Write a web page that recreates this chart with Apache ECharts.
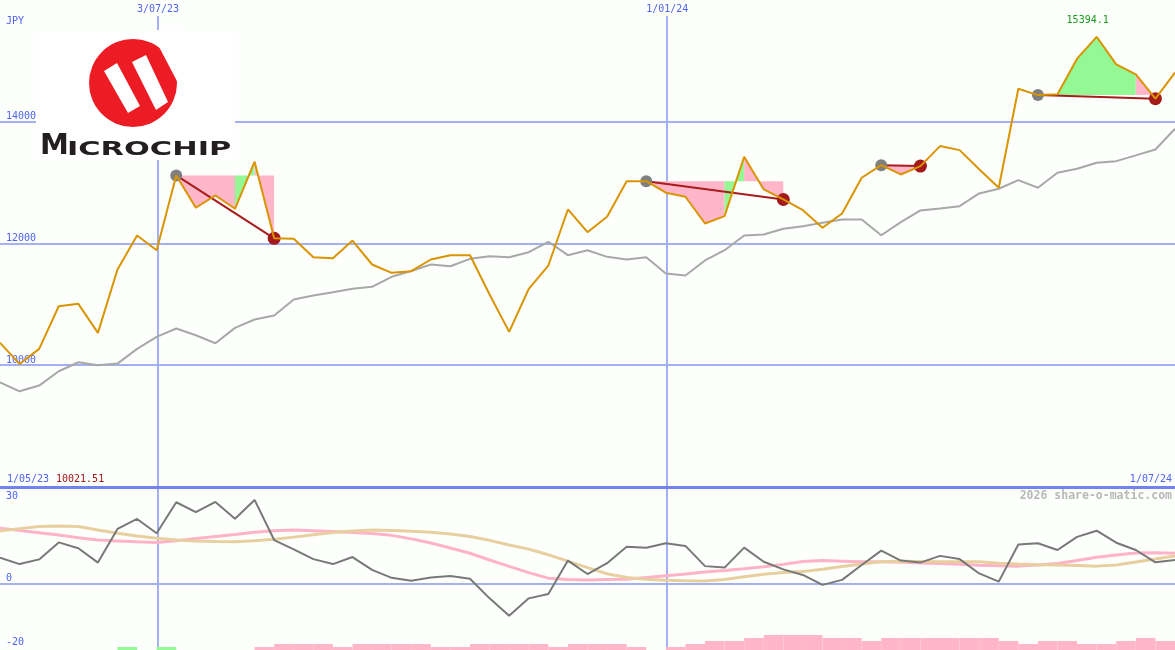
<!DOCTYPE html>
<html><head><meta charset="utf-8">
<script src="https://cdn.jsdelivr.net/npm/echarts@6/dist/echarts.min.js"></script>
<style>html,body{margin:0;padding:0;background:#fcfffc}#c{width:1175px;height:650px}</style>
</head><body><div id="c"></div>
<script>
// ---- data ----
const startDate = Date.UTC(2023, 4, 7, 12);
const WEEK = 7 * 86400000;
const weekDates = Array.from({length: 61}, (_, i) => startDate + i * WEEK);
const xTickDates = [Date.UTC(2023, 6, 3), Date.UTC(2024, 0, 1)];
const rangeLabels = ['1/05/23', '1/07/24'];
const priceTicks = [10000, 12000, 14000];
const oscLabelTicks = [30, 0, -20];
const oscGridTicks = [0];
const currency = 'JPY';
const credit = '2026 share-o-matic.com';

const price = [10368, 10021.51, 10269, 10969, 11009, 10532, 11573, 12132, 11890, 13118,
  12587, 12789, 12570, 13343, 12085, 12077, 11775, 11758, 12049, 11655,
  11518, 11545, 11737, 11808, 11808, 11162, 10548, 11255, 11638, 12559,
  12186, 12439, 13024, 13024, 12834, 12768, 12329, 12449, 13425, 12888,
  12723, 12547, 12258, 12493, 13080, 13287, 13134, 13271, 13600, 13534,
  13220, 12916, 14543, 14438, 14450, 15036, 15394.1, 14943, 14778, 14379,
  14806];
const benchmark = [9720, 9572, 9666, 9901, 10049, 9999, 10027, 10269, 10466, 10603,
  10492, 10361, 10614, 10751, 10816, 11079, 11145, 11199, 11255, 11288,
  11453, 11548, 11655, 11627, 11748, 11791, 11775, 11857, 12028, 11808,
  11890, 11781, 11737, 11775, 11507, 11474, 11721, 11890, 12132, 12148,
  12242, 12284, 12340, 12395, 12395, 12136, 12350, 12543, 12575, 12613,
  12822, 12899, 13041, 12916, 13162, 13228, 13327, 13353, 13447, 13545,
  13886];
const momentum = [9.0, 6.8, 8.4, 14.2, 12.2, 7.3, 18.8, 22.2, 17.3, 27.9,
  24.5, 28.0, 22.3, 28.7, 15.0, 11.8, 8.5, 6.8, 9.2, 4.8,
  2.1, 1.1, 2.2, 2.7, 1.8, -4.9, -10.8, -4.9, -3.4, 8.0,
  3.4, 7.1, 12.7, 12.4, 13.9, 13.0, 6.1, 5.6, 12.4, 7.6,
  5.0, 3.1, -0.3, 1.4, 6.5, 11.4, 8.0, 7.3, 9.6, 8.5,
  3.6, 0.8, 13.5, 13.9, 11.6, 16.1, 18.2, 14.1, 11.6, 7.4,
  8.2];
const momentumAvgPink = [19.0, 18.3, 17.5, 16.7, 15.8, 15.0, 14.7, 14.4, 14.2, 14.8,
  15.5, 16.2, 16.9, 17.7, 18.2, 18.4, 18.2, 17.9, 17.6, 17.2,
  16.6, 15.4, 14.0, 12.3, 10.5, 8.2, 6.0, 3.9, 2.0, 1.5,
  1.4, 1.5, 1.6, 2.2, 2.8, 3.4, 4.1, 4.6, 5.2, 5.9,
  6.7, 7.7, 8.0, 7.8, 7.6, 7.6, 7.4, 7.2, 7.0, 6.7,
  6.4, 6.2, 6.1, 6.5, 7.0, 8.0, 9.1, 9.9, 10.6, 10.7,
  10.5];
const momentumAvgTan = [18.1, 18.9, 19.6, 19.8, 19.6, 18.4, 17.3, 16.4, 15.6, 15.0,
  14.7, 14.5, 14.4, 14.8, 15.3, 16.0, 16.8, 17.6, 18.1, 18.4,
  18.3, 18.0, 17.7, 17.1, 16.2, 14.9, 13.3, 11.9, 10.0, 7.8,
  5.6, 3.5, 2.2, 1.6, 1.3, 1.1, 1.0, 1.5, 2.5, 3.3,
  3.9, 4.3, 5.0, 6.0, 6.8, 7.6, 7.8, 7.7, 7.6, 7.6,
  7.6, 7.1, 6.8, 6.6, 6.5, 6.3, 6.1, 6.5, 7.5, 8.5,
  9.6];
const barValues = [0, 0, 0, 0, 0, 0, 1, 0, 1, 0,
  0, 0, 0, -1, -2, -2, -2, -1, -2, -2,
  -2, -2, -1, -1, -2, -2, -2, -2, -1, -2,
  -2, -2, -1, 0, -1, -2, -3, -3, -4, -5,
  -5, -5, -4, -4, -3, -4, -4, -4, -4, -4,
  -4, -3, -2, -3, -3, -2, -2, -3, -4, -3];
const tradeStart = [9, 33, 45, 53];
const tradeEnd = [14, 40, 47, 59];
const tradeSegColors = ['pppgp', 'ppppgpp', 'pp', 'gggggp'];

// ---- styles ----
const BLUE = '#5064f0';
const GRID = '#a3b1f2';
const MONO = '"DejaVu Sans Mono", monospace';
const PINK = '#ffb6c8';
const GREEN = '#94f894';

function fmtDate(v) {
  const d = new Date(v);
  return d.getUTCDate() + '/' + String(d.getUTCMonth() + 1).padStart(2, '0') + '/' + String(d.getUTCFullYear()).slice(2);
}

// contiguous same-colour runs of each trade's shading
const fillRuns = [];
tradeStart.forEach((s, t) => {
  const cols = tradeSegColors[t];
  let a = 0;
  for (let k = 1; k <= cols.length; k++) {
    if (k === cols.length || cols[k] !== cols[a]) {
      fillRuns.push([weekDates[s + a], price[s], weekDates[s + k], price[s], cols[a] === 'g' ? 1 : 0, s + a, s + k]);
      a = k;
    }
  }
});
const barData = barValues.map((v, i) => [weekDates[i], v, weekDates[i + 1]]);
const minPrice = Math.min(...price);

const chart = echarts.init(document.getElementById('c'), null, {renderer: 'canvas'});
const xMin = weekDates[0], xMax = weekDates[60];

const series = [
  {
    type: 'custom', xAxisIndex: 0, yAxisIndex: 0, z: 1, silent: true,
    encode: {x: [0, 2], y: [1, 3]},
    renderItem: (params, api) => {
      const L = api.value(1);
      const i0 = api.value(5), i1 = api.value(6);
      const pts = [api.coord([weekDates[i0], L])];
      for (let i = i0; i <= i1; i++) pts.push(api.coord([weekDates[i], price[i]]));
      pts.push(api.coord([weekDates[i1], L]));
      return {type: 'polygon', shape: {points: pts}, style: {fill: api.value(4) ? GREEN : PINK}};
    },
    data: fillRuns
  },
  {
    type: 'line', xAxisIndex: 0, yAxisIndex: 0, z: 2, symbol: 'none', silent: true,
    lineStyle: {color: '#a8a8a8', width: 2},
    data: benchmark.map((v, i) => [weekDates[i], v])
  }
];
tradeStart.forEach((s, t) => {
  series.push({
    type: 'line', xAxisIndex: 0, yAxisIndex: 0, z: 3, symbol: 'none', silent: true,
    lineStyle: {color: '#a81c1c', width: 2},
    data: [[weekDates[s], price[s]], [weekDates[tradeEnd[t]], price[tradeEnd[t]]]]
  });
});
series.push(
  {
    type: 'scatter', xAxisIndex: 0, yAxisIndex: 0, z: 4, symbolSize: 12, silent: true,
    itemStyle: {color: '#808080', opacity: 1},
    data: tradeStart.map(s => [weekDates[s], price[s]])
  },
  {
    type: 'scatter', xAxisIndex: 0, yAxisIndex: 0, z: 4, symbolSize: 13, silent: true,
    itemStyle: {color: '#a41a1a', opacity: 1},
    data: tradeEnd.map(s => [weekDates[s], price[s]])
  },
  {
    type: 'line', xAxisIndex: 0, yAxisIndex: 0, z: 5, symbol: 'none', silent: true,
    lineStyle: {color: '#d99400', width: 2},
    data: price.map((v, i) => [weekDates[i], v]),
    markPoint: {
      symbol: 'circle', symbolSize: 1, silent: true,
      itemStyle: {color: 'rgba(0,0,0,0)'},
      label: {show: true, position: 'top', distance: 11, offset: [-9, 0], color: '#1a9a1a', fontFamily: MONO, fontSize: 10, formatter: p => String(p.value)},
      data: [{type: 'max'}]
    }
  },
  {
    type: 'custom', xAxisIndex: 1, yAxisIndex: 2, z: 1, silent: true,
    encode: {x: [0, 2], y: 1},
    renderItem: (params, api) => {
      const v = api.value(1);
      if (!v) return null;
      const p0 = api.coord([api.value(0), 0]);
      const p1 = api.coord([api.value(2), Math.abs(v)]);
      return {type: 'rect', shape: {x: p0[0], y: p1[1], width: p1[0] - p0[0], height: p0[1] - p1[1]}, style: {fill: v > 0 ? GREEN : PINK}};
    },
    data: barData
  },
  {
    type: 'line', xAxisIndex: 1, yAxisIndex: 1, z: 2, symbol: 'none', silent: true,
    lineStyle: {color: '#ffb3c8', width: 3},
    data: momentumAvgPink.map((v, i) => [weekDates[i], v])
  },
  {
    type: 'line', xAxisIndex: 1, yAxisIndex: 1, z: 3, symbol: 'none', silent: true,
    lineStyle: {color: '#e8cf9f', width: 3},
    data: momentumAvgTan.map((v, i) => [weekDates[i], v])
  },
  {
    type: 'line', xAxisIndex: 1, yAxisIndex: 1, z: 4, symbol: 'none', silent: true,
    lineStyle: {color: '#787878', width: 2},
    data: momentum.map((v, i) => [weekDates[i], v])
  }
);

const textStyleBase = {fill: BLUE, font: '10px ' + MONO, textVerticalAlign: 'middle'};

const option = {
  backgroundColor: '#fcfffc',
  animation: false,
  grid: [
    {left: 0, right: 0, top: 16, height: 471, containLabel: false, outerBoundsMode: 'none'},
    {left: 0, right: 0, top: 487, height: 163, containLabel: false, outerBoundsMode: 'none'}
  ],
  xAxis: [
    {
      type: 'value', gridIndex: 0, position: 'top', min: xMin, max: xMax, scale: true,
      axisLine: {show: false}, axisTick: {show: false, customValues: xTickDates},
      axisLabel: {show: true, customValues: xTickDates, margin: 2, color: BLUE, fontFamily: MONO, fontSize: 10, formatter: v => fmtDate(v), hideOverlap: false, showMinLabel: true, showMaxLabel: true},
      splitLine: {show: true, lineStyle: {color: GRID, width: 2}}
    },
    {
      type: 'value', gridIndex: 1, position: 'top', min: xMin, max: xMax, scale: true,
      axisLine: {show: true, onZero: false, lineStyle: {color: '#7383ee', width: 3}},
      axisTick: {show: false, customValues: xTickDates},
      axisLabel: {show: false},
      splitLine: {show: true, lineStyle: {color: GRID, width: 2}}
    }
  ],
  yAxis: [
    {
      type: 'value', gridIndex: 0, min: 8000, max: 15737,
      axisLine: {show: false}, axisTick: {show: false, customValues: priceTicks},
      axisLabel: {inside: true, customValues: priceTicks, margin: 6, verticalAlign: 'bottom', color: BLUE, fontFamily: MONO, fontSize: 10, formatter: v => String(v)},
      splitLine: {show: true, lineStyle: {color: GRID, width: 2}}
    },
    {
      type: 'value', gridIndex: 1, min: -22.53, max: 33.11,
      axisLine: {show: false}, axisTick: {show: false, customValues: oscGridTicks},
      axisLabel: {inside: true, customValues: oscLabelTicks, margin: 6, verticalAlign: 'middle', color: BLUE, fontFamily: MONO, fontSize: 10,
        formatter: v => v === 0 ? '{u|0}' : String(v),
        rich: {u: {padding: [0, 0, 12, 0], color: BLUE, fontFamily: MONO, fontSize: 10}}},
      splitLine: {show: true, lineStyle: {color: GRID, width: 2}}
    },
    {
      type: 'value', gridIndex: 1, min: 0, max: 163 / 3, show: false,
      splitLine: {show: false}
    }
  ],
  graphic: [
    {type: 'text', x: 6, y: 21, z: 50, style: Object.assign({}, textStyleBase, {text: currency})},
    {type: 'text', x: 7, y: 479, z: 50, style: Object.assign({}, textStyleBase, {text: rangeLabels[0]})},
    {type: 'text', x: 56, y: 479, z: 50, style: Object.assign({}, textStyleBase, {text: String(minPrice), fill: '#a01818'})},
    {type: 'text', x: 1172, y: 479, z: 50, style: Object.assign({}, textStyleBase, {text: rangeLabels[1], textAlign: 'right'})},
    {type: 'text', x: 1172, y: 496, z: 50, style: {text: credit, fill: '#b8b8b8', font: 'bold 11.5px ' + MONO, textAlign: 'right', textVerticalAlign: 'middle'}},
    // logo
    {type: 'rect', z: 100, shape: {x: 36, y: 33, width: 199, height: 127}, style: {fill: '#ffffff'}},
    {type: 'circle', z: 101, shape: {cx: 133, cy: 83, r: 44}, style: {fill: '#ed1c24'}},
    {type: 'polygon', z: 102, shape: {points: [[104, 71], [117, 63], [140, 106], [128, 113]]}, style: {fill: '#ffffff'}},
    {type: 'polygon', z: 102, shape: {points: [[132, 62], [146, 55], [168, 102], [156, 110]]}, style: {fill: '#ffffff'}},
    {type: 'polygon', z: 102, shape: {points: [[157, 43], [157, 30], [190, 30], [190, 83], [178, 83]]}, style: {fill: '#ffffff'}},
    {type: 'text', z: 103, x: 40, y: 161, style: {text: 'M', fill: '#231f20', font: 'bold 29px "DejaVu Sans"', textVerticalAlign: 'bottom'}},
    {type: 'text', z: 103, x: 67, y: 160, scaleX: 1.52, style: {text: 'ICROCHIP', fill: '#231f20', font: 'bold 20px "DejaVu Sans"', textVerticalAlign: 'bottom'}}
  ],
  series: series
};
chart.setOption(option);
</script>
</body></html>
